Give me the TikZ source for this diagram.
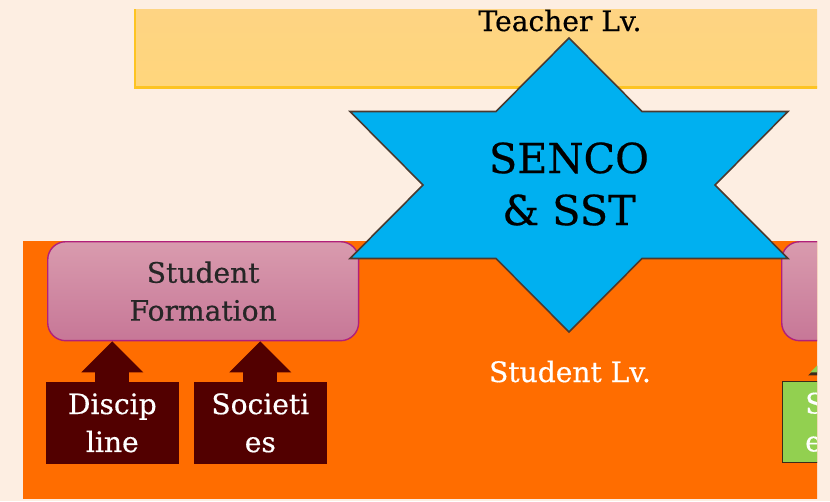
\documentclass[tikz,border=0pt]{standalone}
\usepackage{fontspec}
\setmainfont{DejaVu Serif}[FakeBold=0.5]
\usetikzlibrary{arrows.meta}

\definecolor{cream}{HTML}{FDEEE2}
\definecolor{bandtop}{HTML}{FDD386}
\definecolor{bandbot}{HTML}{FFD67C}
\definecolor{bandedge}{HTML}{FDC422}
\definecolor{studorange}{HTML}{FF6D00}
\definecolor{starblue}{HTML}{00B0F0}
\definecolor{staredge}{HTML}{4A3A30}
\definecolor{pinktop}{HTML}{D99BAE}
\definecolor{pinkbot}{HTML}{C77797}
\definecolor{pinkedge}{HTML}{B1207A}
\definecolor{maroon}{HTML}{520000}
\definecolor{leafgreen}{HTML}{92D050}
\definecolor{greenedge}{HTML}{3C2A1A}

\tikzset{
  midfont/.style={font=\fontsize{16}{21.6}\selectfont},
  lvband/.style={draw=bandedge, line width=1.7pt, top color=bandtop, bottom color=bandbot,
    anchor=north west, minimum width=16cm, minimum height=2.2cm, inner sep=0pt},
  lvtext/.style={midfont, anchor=base, inner sep=0pt},
  formbox/.style={draw=pinkedge, line width=0.8pt, rounded corners=0.36cm, top color=pinktop,
    bottom color=pinkbot, anchor=north west, minimum width=6.22cm, minimum height=1.98cm,
    align=center, midfont, text=black!85},
  activity/.style={draw=maroon, fill=maroon, text=white, anchor=north west, minimum width=2.64cm,
    minimum height=1.62cm, align=center, midfont, inner sep=0pt},
  uparrow/.style={draw=maroon, line width=0.68cm, -{Triangle[width=1.24cm, length=0.62cm, line width=0pt]}},
}

\begin{document}
\begin{tikzpicture}[x=0.02cm, y=-0.02cm]
    \useasboundingbox (0,0) rectangle (830,501);
    \fill[cream] (0,0) rectangle (830,501);

    \begin{scope}
    \clip (0,9) rectangle (817,501);

    % Nodes
    \node[lvband] (teacherband) at (133.5,-24) {};
    \node[fill=studorange, anchor=north west, minimum width=17cm, minimum height=5.16cm, inner sep=0pt] (studentband) at (23,241) {};
    \node[lvtext] (teacher) at (560,31) {Teacher Lv.};
    \node[lvtext, text=white] (student) at (570,382) {Student Lv.};

    \node[formbox] (formation) at (47,241) {Student\\Formation};
    \node[formbox] (rightbox) at (781,241) {};
    \node[activity] (discipline) at (46,382) {Discip\\line};
    \node[activity] (societies) at (194,382) {Societi\\es};
    \node[activity, draw=greenedge, line width=0.8pt, fill=leafgreen, minimum width=0pt,
      text width=1.44cm, inner xsep=0.45cm, align=left] (sports) at (782,381) {S\\e};

    % Star
    \draw[fill=starblue, draw=staredge, line width=0.9pt, line join=miter]
      (569,38) -- (642,111.5) -- (788,111.5) -- (715,185) -- (788,258.5) -- (642,258.5)
      -- (569,332) -- (496,258.5) -- (350,258.5) -- (423,185) -- (350,111.5) -- (496,111.5) -- cycle;
    \node[font=\fontsize{23.5}{29.6}\selectfont, align=center] (senco) at (569,184) {SENCO\\\& SST};

    % Arrows
    \draw[uparrow] (discipline.north) -- (discipline.north |- formation.south);
    \draw[uparrow] (societies.north) -- (societies.north |- formation.south);
    \draw[uparrow, draw=leafgreen,
      preaction={draw=greenedge, line width=0.72cm, -{Triangle[width=1.32cm, length=0.68cm, line width=0pt]}}]
      (sports.north) -- (sports.north |- rightbox.south);
    \end{scope}
\end{tikzpicture}
\end{document}
